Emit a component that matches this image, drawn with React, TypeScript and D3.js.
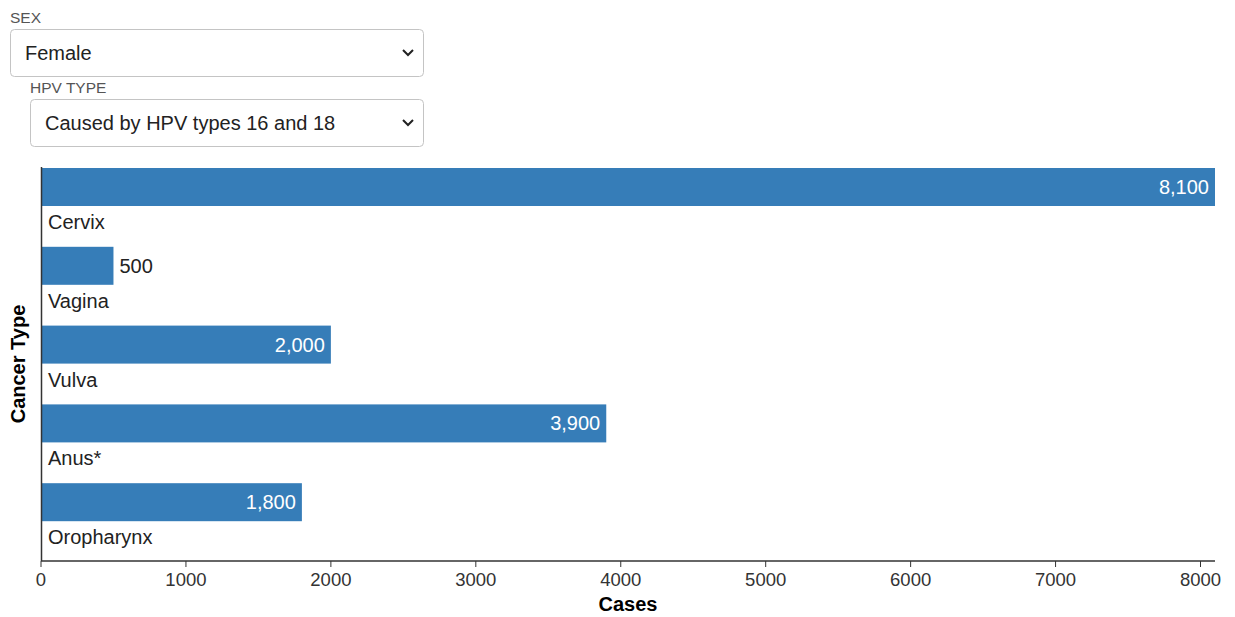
import React from "react";
import * as d3 from "d3";

const categories = ["Cervix", "Vagina", "Vulva", "Anus*", "Oropharynx"];
const cases = [8100, 500, 2000, 3900, 1800];
const xTicks = [0, 1000, 2000, 3000, 4000, 5000, 6000, 7000, 8000];
const sexLabel = "SEX";
const sexValue = "Female";
const hpvLabel = "HPV TYPE";
const hpvValue = "Caused by HPV types 16 and 18";

const W = 1235;
const H = 617;
const FONT = "'Liberation Sans', Arial, sans-serif";
const BAR = "#367db8";

function Select({ x, y, w, h, label, value, labelX }: any) {
  return (
    <g>
      <text x={labelX} y={y - 6} fontSize={15.5} fill="#555" fontFamily={FONT}>{label}</text>
      <rect x={x + 0.5} y={y + 0.5} width={w} height={h} rx={4} fill="#fff" stroke="#c4c4c4" />
      <text x={x + 15} y={y + h / 2 + 7} fontSize={20} fill="#222" fontFamily={FONT}>{value}</text>
      <path d={`M${x + w - 20},${y + h / 2 - 2.5} l5,5 l5,-5`} fill="none" stroke="#222" strokeWidth={2} />
    </g>
  );
}

export default function App() {
  const x = d3.scaleLinear().domain([0, 8100]).range([41, 1215]);
  const y = d3.scaleBand().domain(categories).range([167, 561]);
  const bh = 38;
  const fmt = d3.format(",");
  return (
    <div style={{ position: "absolute", left: 0, top: 0 }}>
      <svg width={W} height={H} style={{ display: "block" }}>
        <rect width={W} height={H} fill="#fff" />
        <Select x={10} y={29} w={413} h={47} label={sexLabel} value={sexValue} labelX={10} />
        <Select x={30} y={99} w={393} h={47} label={hpvLabel} value={hpvValue} labelX={30} />
        {categories.map((c, i) => {
          const y0 = y(c)!;
          const x1 = x(cases[i]);
          const inside = x1 - x(0) > 80;
          return (
            <g key={c}>
              <rect x={x(0)} y={y0 + 1} width={x1 - x(0)} height={bh} fill={BAR} />
              <text
                x={inside ? x1 - 6 : x1 + 6}
                y={y0 + 1 + bh / 2 + 7}
                textAnchor={inside ? "end" : "start"}
                fontSize={20}
                fill={inside ? "#fff" : "#222"}
                fontFamily={FONT}
              >
                {fmt(cases[i])}
              </text>
              <text x={48} y={y0 + 62} fontSize={20} fill="#222" fontFamily={FONT}>{c}</text>
            </g>
          );
        })}
        <line x1={41.5} x2={41.5} y1={167} y2={561} stroke="#333" strokeWidth={1.5} />
        <line x1={41} x2={1215} y1={561} y2={561} stroke="#333" strokeWidth={1.5} />
        {xTicks.map((t) => (
          <g key={t} transform={`translate(${x(t)},561)`}>
            <line y2={6} stroke="#333" />
            <text y={25} textAnchor="middle" fontSize={18.5} fill="#333" fontFamily={FONT}>{t}</text>
          </g>
        ))}
        <text x={628} y={611} textAnchor="middle" fontSize={20} fontWeight="bold" fill="#000" fontFamily={FONT}>Cases</text>
        <text transform="translate(25,364) rotate(-90)" textAnchor="middle" fontSize={20} fontWeight="bold" fill="#000" fontFamily={FONT}>Cancer Type</text>
      </svg>
    </div>
  );
}
